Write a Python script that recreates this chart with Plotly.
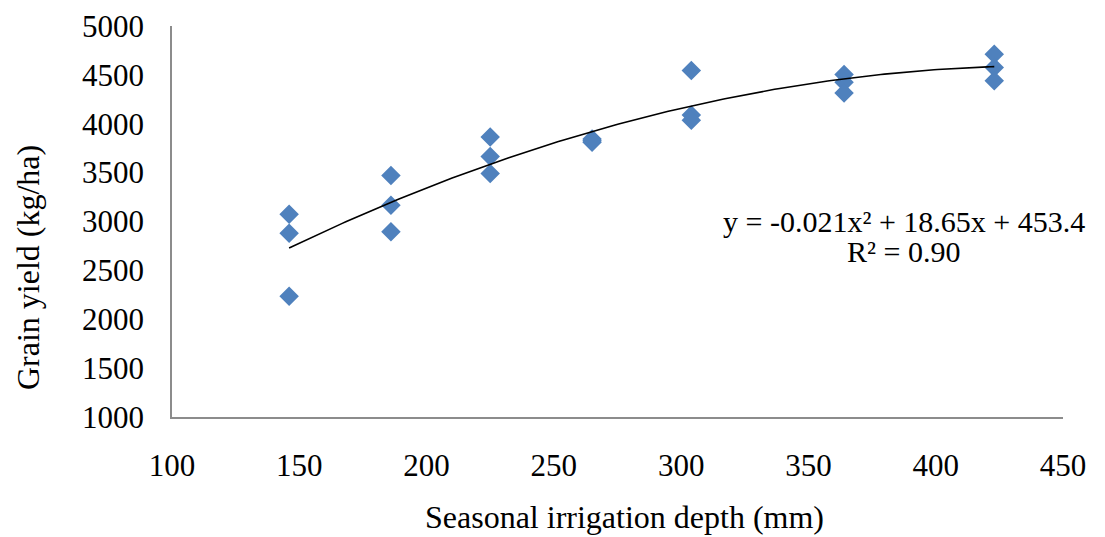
import numpy as np
import plotly.graph_objects as go

# Data
irrigation_mm = [146, 146, 146, 186, 186, 186, 225, 225, 225, 265, 265, 265,
                 304, 304, 304, 364, 364, 364, 423, 423, 423]
grain_yield = [3075, 2880, 2235, 3470, 3165, 2895, 3865, 3665, 3490, 3845, 3825, 3810,
               4545, 4090, 4035, 4505, 4425, 4315, 4710, 4575, 4440]

# Trendline coefficients shown on the chart
coef_a, coef_b, coef_c = -0.021, 18.65, 453.4
r_squared = "0.90"

x_ticks = [100, 150, 200, 250, 300, 350, 400, 450]
y_ticks = [1000, 1500, 2000, 2500, 3000, 3500, 4000, 4500, 5000]

x_title = "Seasonal irrigation depth (mm)"
y_title = "Grain yield (kg/ha)"

FONT = "Liberation Serif, Times New Roman, serif"

xs = np.linspace(min(irrigation_mm), max(irrigation_mm), 200)
ys = coef_a * xs ** 2 + coef_b * xs + coef_c

fig = go.Figure()
fig.add_trace(go.Scatter(
    x=irrigation_mm, y=grain_yield, mode="markers",
    marker=dict(symbol="diamond", size=15, color="#4F81BD", line=dict(width=0)),
    showlegend=False,
))
fig.add_trace(go.Scatter(
    x=xs, y=ys, mode="lines",
    line=dict(color="black", width=1.6),
    showlegend=False,
))

# The page body has an 8px default margin, so the figure is sized/offset to compensate.
fig.update_layout(
    width=1097, height=529,
    margin=dict(l=164, r=42, t=18, b=120),
    paper_bgcolor="white", plot_bgcolor="white",
    font=dict(family=FONT, size=31, color="black"),
    xaxis=dict(
        range=[100, 450], tickvals=x_ticks, ticktext=[str(v) for v in x_ticks],
        showline=True, linecolor="#8C8C8C", linewidth=1.5, automargin=False,
        showgrid=False, zeroline=False, ticks="", ticklabelstandoff=20,
    ),
    yaxis=dict(
        range=[1000, 5000], tickvals=y_ticks, ticktext=[str(v) for v in y_ticks],
        showline=True, linecolor="#8C8C8C", linewidth=1.5, automargin=False,
        showgrid=False, zeroline=False, ticks="", ticklabelstandoff=20,
    ),
)

# Axis titles
fig.add_annotation(
    x=0.5073, y=-0.2558, xref="paper", yref="paper", showarrow=False,
    xanchor="center", yanchor="middle", text=x_title,
    font=dict(family=FONT, size=32, color="black"),
)
fig.add_annotation(
    x=-0.1616, y=0.381, xref="paper", yref="paper", showarrow=False,
    xanchor="center", yanchor="middle", text=y_title, textangle=-90,
    font=dict(family=FONT, size=32, color="black"),
)

# Trendline equation
fig.add_annotation(
    x=387.5, y=3005, xref="x", yref="y", showarrow=False,
    text="y = -0.021x² + 18.65x + 453.4",
    font=dict(family=FONT, size=30, color="black"),
)
fig.add_annotation(
    x=387.5, y=2690, xref="x", yref="y", showarrow=False,
    text="R² = " + r_squared,
    font=dict(family=FONT, size=30, color="black"),
)

fig.write_html("out.html")
